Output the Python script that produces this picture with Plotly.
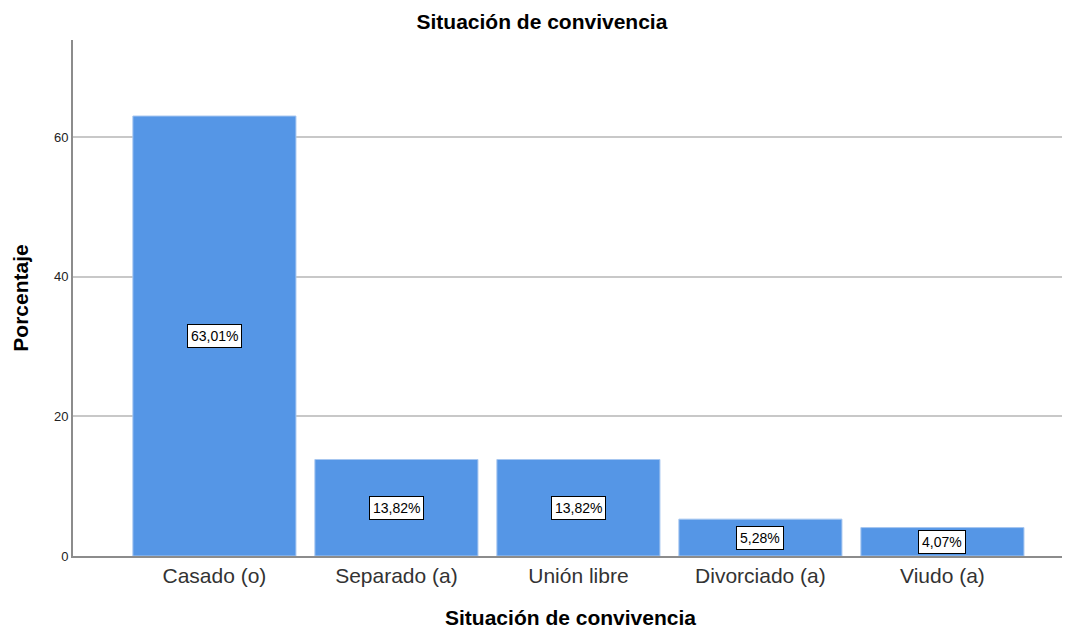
import plotly.graph_objects as go

categorias = ["Casado (o)", "Separado (a)", "Unión libre", "Divorciado (a)", "Viudo (a)"]
porcentajes = [63.01, 13.82, 13.82, 5.28, 4.07]
etiquetas = ["63,01%", "13,82%", "13,82%", "5,28%", "4,07%"]

fig = go.Figure()
fig.add_trace(go.Bar(
    x=categorias, y=porcentajes,
    marker=dict(color="#5596e6", line=dict(color="#a6c6f0", width=1)),
    hoverinfo="x+y", showlegend=False))

# etiquetas en el centro de cada barra, con caja blanca
for c, v, t in zip(categorias, porcentajes, etiquetas):
    fig.add_annotation(x=c, y=v / 2, text=t, showarrow=False,
                       font=dict(family="Liberation Sans, Arial", size=14, color="#000"),
                       bgcolor="white", bordercolor="#000", borderwidth=1, borderpad=3)

# la página html deja 8px de margen en el body, se compensa aquí
fig.update_layout(
    width=1070, height=628,
    paper_bgcolor="white", plot_bgcolor="white",
    margin=dict(l=65, r=10, t=32, b=80),
    bargap=0.104,
    font=dict(family="Liberation Sans, Arial", color="#222"),
    title=dict(text="<b>Situación de convivencia</b>", x=0.499, xref="container",
               y=0.978, yref="container", xanchor="center", yanchor="middle",
               font=dict(size=21, color="#000")),
)
fig.update_xaxes(
    range=[-0.777, 4.69], showgrid=False, showline=True, linecolor="#8c8c8c", linewidth=2,
    ticks="", tickfont=dict(size=21, color="#333"), automargin=False,
    title=dict(text="<b>Situación de convivencia</b>", font=dict(size=21, color="#000"), standoff=24),
)
fig.update_yaxes(
    range=[0, 73.9], tickvals=[0, 20, 40, 60], showgrid=True, gridcolor="#c8c8c8", gridwidth=1.5,
    zeroline=False, showline=True, linecolor="#8c8c8c", linewidth=2,
    ticks="", tickfont=dict(size=13, color="#222"), automargin=False,
    title=dict(text="<b>Porcentaje</b>", font=dict(size=21, color="#000"), standoff=20),
)

fig.write_html("out.html")
